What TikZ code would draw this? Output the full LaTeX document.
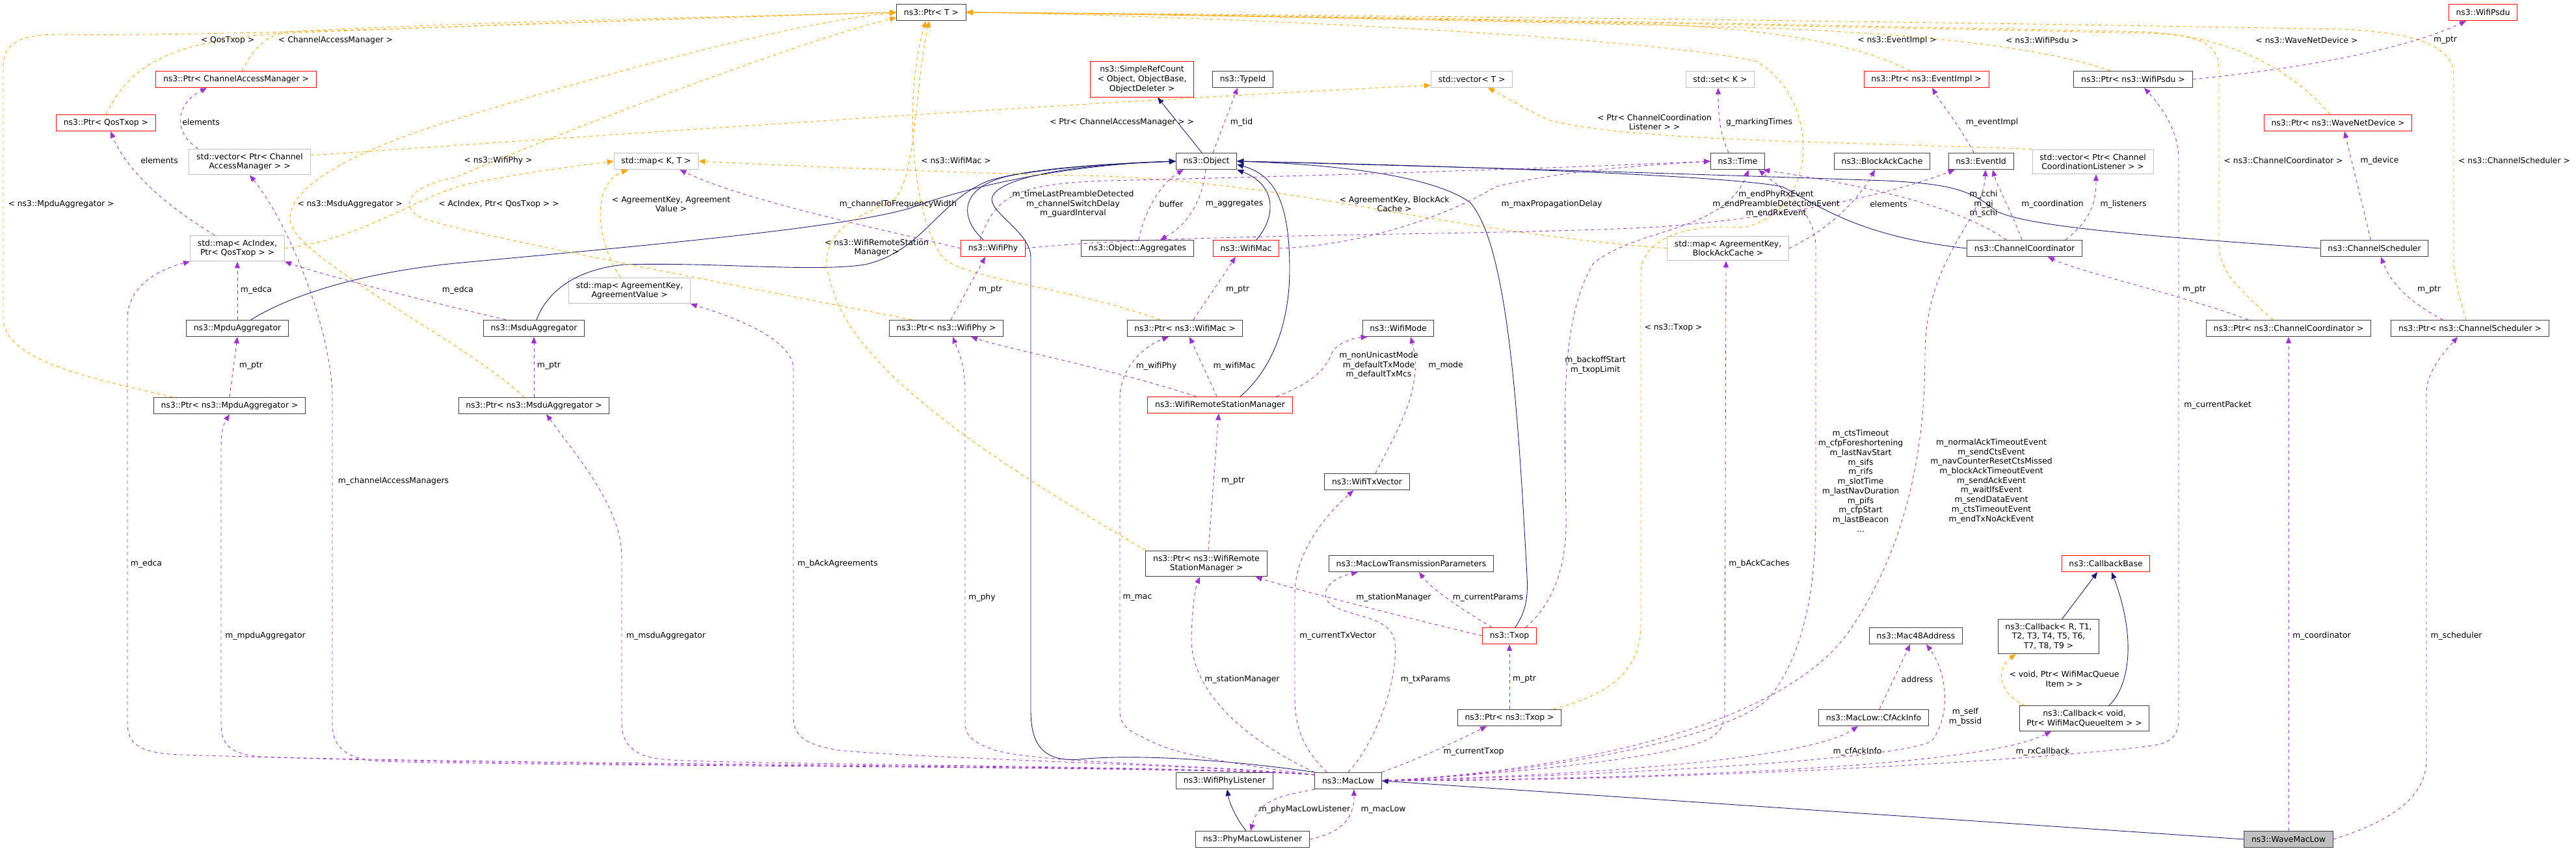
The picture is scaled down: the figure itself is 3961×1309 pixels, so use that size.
\documentclass[tikz,border=0pt]{standalone}
\usepackage{fontspec}
\setmainfont{DejaVu Sans}
\usetikzlibrary{arrows.meta, calc}
\definecolor{inhblue}{HTML}{191970}
\definecolor{usepurple}{HTML}{9A32CD}
\definecolor{tplorange}{HTML}{FFA500}

\begin{document}
\begin{tikzpicture}[x=0.8pt, y=-0.8pt,
        box/.style={rectangle, draw=black!75, fill=white, line width=0.8pt, font=\fontsize{9.9}{11.8}\selectfont, align=center, inner xsep=9pt, inner ysep=5.3pt, minimum height=20.3pt},
        boxred/.style={box, draw=red},
        boxgray/.style={box, draw=black!25},
        boxroot/.style={box, fill=black!25},
        lbl/.style={font=\fontsize{9.9}{11.8}\selectfont, align=center, inner sep=0pt},
        inh/.style={draw=inhblue, line width=0.7pt, -{Triangle[length=8pt,width=6.5pt]}},
        use/.style={draw=usepurple, line width=0.7pt, dash pattern=on 4pt off 4pt, -{Triangle[length=8pt,width=6.5pt]}},
        tpl/.style={draw=tplorange, line width=0.7pt, dash pattern=on 4pt off 4pt, -{Triangle[length=8pt,width=6.5pt]}}
        ]
        \useasboundingbox[fill=white] (0,0) rectangle (3961,1309);
        % classes
        \node[box] (PtrT) at (1432,19) {ns3::Ptr< T >};
        \node[boxred] (WifiPsdu) at (3818,19) {ns3::WifiPsdu};
        \node[boxred] (PtrCAM) at (363,122) {ns3::Ptr< ChannelAccessManager >};
        \node[boxred] (SimpleRefCount) at (1756,122) {ns3::SimpleRefCount\\< Object, ObjectBase,\\ObjectDeleter >};
        \node[box] (TypeId) at (1911,122) {ns3::TypeId};
        \node[boxgray] (VectorT) at (2263,122) {std::vector< T >};
        \node[boxgray] (SetK) at (2645,122) {std::set< K >};
        \node[boxred] (PtrEventImpl) at (2962,122) {ns3::Ptr< ns3::EventImpl >};
        \node[box] (PtrWifiPsdu) at (3280,122) {ns3::Ptr< ns3::WifiPsdu >};
        \node[boxred] (PtrQosTxop) at (163,189) {ns3::Ptr< QosTxop >};
        \node[boxred] (PtrWaveNetDevice) at (3595,189) {ns3::Ptr< ns3::WaveNetDevice >};
        \node[boxgray] (VecCAM) at (384,249) {std::vector< Ptr< Channel\\AccessManager > >};
        \node[boxgray] (MapKT) at (1009,248) {std::map< K, T >};
        \node[box] (Object) at (1855,248) {ns3::Object};
        \node[box] (Time) at (2672,248) {ns3::Time};
        \node[box] (BlockAckCache) at (2894,248) {ns3::BlockAckCache};
        \node[box] (EventId) at (3046,248) {ns3::EventId};
        \node[boxgray] (VecCCL) at (3218,249) {std::vector< Ptr< Channel\\CoordinationListener > >};
        \node[boxgray] (MapAcIndex) at (365,382) {std::map< AcIndex,\\Ptr< QosTxop > >};
        \node[boxred] (WifiPhy) at (1527,382) {ns3::WifiPhy};
        \node[box] (ObjAggregates) at (1749,382) {ns3::Object::Aggregates};
        \node[boxred] (WifiMac) at (1916,382) {ns3::WifiMac};
        \node[boxgray] (MapBlockAck) at (2657,382) {std::map< AgreementKey,\\BlockAckCache >};
        \node[box] (ChannelCoordinator) at (3113,382) {ns3::ChannelCoordinator};
        \node[box] (ChannelScheduler) at (3651,382) {ns3::ChannelScheduler};
        \node[boxgray] (MapAgreement) at (968,447) {std::map< AgreementKey,\\AgreementValue >};
        \node[box] (MpduAggregator) at (365,505) {ns3::MpduAggregator};
        \node[box] (MsduAggregator) at (821,505) {ns3::MsduAggregator};
        \node[box] (PtrWifiPhy) at (1455,505) {ns3::Ptr< ns3::WifiPhy >};
        \node[box] (PtrWifiMac) at (1822,505) {ns3::Ptr< ns3::WifiMac >};
        \node[box] (WifiMode) at (2150,505) {ns3::WifiMode};
        \node[box] (PtrCC) at (3519,505) {ns3::Ptr< ns3::ChannelCoordinator >};
        \node[box] (PtrCS) at (3798,505) {ns3::Ptr< ns3::ChannelScheduler >};
        \node[box] (PtrMpdu) at (353,624) {ns3::Ptr< ns3::MpduAggregator >};
        \node[box] (PtrMsdu) at (821,624) {ns3::Ptr< ns3::MsduAggregator >};
        \node[boxred] (WifiRSM) at (1876,623) {ns3::WifiRemoteStationManager};
        \node[box] (WifiTxVector) at (2102,741) {ns3::WifiTxVector};
        \node[box] (PtrWifiRSM) at (1855,867) {ns3::Ptr< ns3::WifiRemote\\StationManager >};
        \node[box] (MacLowTxParams) at (2170,867) {ns3::MacLowTransmissionParameters};
        \node[boxred] (CallbackBase) at (3238,867) {ns3::CallbackBase};
        \node[boxred] (Txop) at (2321,978) {ns3::Txop};
        \node[box] (Mac48Address) at (2946,978) {ns3::Mac48Address};
        \node[box] (CallbackRT) at (3150,979) {ns3::Callback< R, T1,\\T2, T3, T4, T5, T6,\\T7, T8, T9 >};
        \node[box] (PtrTxop) at (2321,1104) {ns3::Ptr< ns3::Txop >};
        \node[box] (CfAckInfo) at (2881,1104) {ns3::MacLow::CfAckInfo};
        \node[box] (CallbackVoid) at (3205,1105) {ns3::Callback< void,\\Ptr< WifiMacQueueItem > >};
        \node[box] (WifiPhyListener) at (1883,1201) {ns3::WifiPhyListener};
        \node[box] (MacLow) at (2073,1201) {ns3::MacLow};
        \node[box] (PhyMacLowListener) at (1926,1291) {ns3::PhyMacLowListener};
        \node[boxroot] (WaveMacLow) at (3519,1291) {ns3::WaveMacLow};

        % inheritance
        \draw[inh] ($(Object.north)+(-7,0)$) -- ($(SimpleRefCount.south)+(24,0)$);
        \draw[inh] ($(WifiPhy.north)+(-15,0)$) .. controls (1470,330) and (1480,283) .. (1560,269) .. controls (1650,254) and (1750,250) .. (Object.west);
        \draw[inh] ($(WifiMac.north)+(16,0)$) .. controls (1965,330) and (1960,283) .. (Object.south east);
        \draw[inh] ($(WifiRSM.north)+(31,0)$) .. controls (1960,565) and (1983,490) .. (1983,415) .. controls (1983,311) and (1960,269) .. ($(Object.east)+(0,5)$);
        \draw[inh] ($(MpduAggregator.north)+(21,0)$) .. controls (450,452) and (560,419) .. (700,405) .. controls (1000,377) and (1300,350) .. (1400,320) .. controls (1500,283) and (1650,253) .. (Object.west);
        \draw[inh] ($(MsduAggregator.north)+(4,0)$) .. controls (840,452) and (880,415) .. (960,407) .. controls (1100,403) and (1250,419) .. (1330,407) .. controls (1420,386) and (1440,311) .. (1520,278) .. controls (1600,254) and (1750,251) .. (Object.west);
        \draw[inh] (MacLow.north west) .. controls (1900,1170) and (1750,1159) .. (1660,1168) .. controls (1600,1173) and (1585,1140) .. (1585,1093) -- (1585,396) .. controls (1585,358) and (1525,330) .. (1525,306) .. controls (1530,273) and (1650,253) .. (Object.west);
        \draw[inh] ($(Txop.north)+(9,0)$) .. controls (2345,942) and (2350,923) .. (2348,886) .. controls (2335,650) and (2320,377) .. (2260,311) .. controls (2200,269) and (2050,253) .. (Object.east);
        \draw[inh] (ChannelCoordinator.west) .. controls (2850,363) and (2790,311) .. (2740,287) .. controls (2650,269) and (2200,254) .. (Object.east);
        \draw[inh] (ChannelScheduler.west) .. controls (3300,363) and (3120,349) .. (3070,325) .. controls (3030,292) and (3000,283) .. (2900,278) .. controls (2500,264) and (2100,253) .. (Object.east);
        \draw[inh] ($(CallbackRT.north)+(21,0)$) -- ($(CallbackBase.south)+(-13,0)$);
        \draw[inh] ($(CallbackVoid.north)+(38,0)$) .. controls (3275,1055) and (3285,980) .. ($(CallbackBase.south)+(9,0)$);
        \draw[inh] ($(PhyMacLowListener.north)+(-10,0)$) .. controls (1900,1258) and (1890,1234) .. ($(WifiPhyListener.south)+(4,0)$);
        \draw[inh] (WaveMacLow.west) -- (MacLow.east);

        % template instances
        \draw[tpl] (PtrQosTxop.north) .. controls (195,113) and (240,66) .. (420,52) .. controls (800,36) and (1200,24) .. (PtrT.west);
        \draw[tpl] ($(PtrCAM.north)+(9,0)$) .. controls (385,85) and (400,57) .. (440,49) .. controls (700,34) and (1200,24) .. (PtrT.west);
        \draw[tpl] ($(PtrMpdu.north west)+(30,0)$) .. controls (150,584) and (5,556) .. (5,490) -- (5,104) .. controls (5,66) and (30,53) .. (90,53) .. controls (400,57) and (1000,28) .. (PtrT.west);
        \draw[tpl] ($(PtrMsdu.north)+(-15,0)$) .. controls (720,528) and (450,396) .. (446,339) .. controls (442,283) and (560,226) .. (700,184) .. controls (900,122) and (1200,38) .. (PtrT.west);
        \draw[tpl] ($(PtrWifiPhy.north west)+(35,0)$) .. controls (1200,452) and (750,367) .. (660,339) .. controls (610,325) and (620,287) .. (700,273) .. controls (900,188) and (1250,57) .. ($(PtrT.south west)+(0,-5)$);
        \draw[tpl] (MapAcIndex.east) .. controls (560,367) and (640,302) .. (720,283) .. controls (800,266) and (880,256) .. (MapKT.west);
        \draw[tpl] ($(VecCAM.east)+(0,-10)$) .. controls (1000,203) and (1700,155) .. ($(VectorT.south west)+(0,-4)$);
        \draw[tpl] ($(MapAgreement.north)+(-14,0)$) .. controls (915,367) and (910,283) .. ($(MapKT.south west)+(22,0)$);
        \draw[tpl] ($(PtrWifiMac.north west)+(51,0)$) .. controls (1650,443) and (1480,429) .. (1450,396) .. controls (1400,330) and (1390,141) .. ($(PtrT.south)+(-8,0)$);
        \draw[tpl] (PtrWifiRSM.north west) .. controls (1600,750) and (1320,590) .. (1280,443) .. controls (1250,367) and (1300,339) .. (1370,311) .. controls (1410,283) and (1405,141) .. ($(PtrT.south)+(-3,0)$);
        \draw[tpl] (MapBlockAck.west) .. controls (2200,353) and (2000,283) .. (1700,271) .. controls (1400,264) and (1200,254) .. (MapKT.east);
        \draw[tpl] (VecCCL.north west) .. controls (2900,219) and (2500,219) .. (2380,184) .. controls (2340,165) and (2310,146) .. ($(VectorT.south)+(25,0)$);
        \draw[tpl] ($(PtrTxop.north east)+(-13,0)$) .. controls (2470,1069) and (2523,1036) .. (2523,961) -- (2523,415) .. controls (2530,363) and (2600,344) .. (2680,350) .. controls (2800,325) and (2800,151) .. (2700,94) .. controls (2500,52) and (1800,23) .. (PtrT.east);
        \draw[tpl] ($(PtrEventImpl.north)+(-25,0)$) .. controls (2870,75) and (2750,42) .. (2500,36) .. controls (2000,26) and (1700,21) .. (PtrT.east);
        \draw[tpl] ($(PtrWifiPsdu.north)+(-35,0)$) .. controls (3150,75) and (2950,47) .. (2600,40) .. controls (2100,28) and (1700,21) .. (PtrT.east);
        \draw[tpl] ($(PtrWaveNetDevice.north)+(-12,0)$) .. controls (3520,104) and (3430,57) .. (3300,49) .. controls (2500,32) and (1800,21) .. (PtrT.east);
        \draw[tpl] ($(PtrCC.north)+(-24,0)$) .. controls (3440,443) and (3412,415) .. (3412,377) -- (3412,104) .. controls (3410,66) and (3380,53) .. (3300,51) .. controls (2500,34) and (1800,21) .. (PtrT.east);
        \draw[tpl] ($(PtrCS.north)+(-6,0)$) .. controls (3780,452) and (3773,424) .. (3773,396) -- (3773,113) .. controls (3770,66) and (3700,49) .. (3600,45) .. controls (2800,30) and (1800,21) .. (PtrT.east);
        \draw[tpl] ($(CallbackVoid.north west)+(9,0)$) .. controls (3070,1065) and (3070,1027) .. ($(CallbackRT.south west)+(28,0)$);

        % members, upper part
        \draw[use] ($(VecCAM.north west)+(14,0)$) .. controls (265,203) and (270,160) .. ($(PtrCAM.south)+(-45,0)$);
        \draw[use] ($(MapAcIndex.north)+(-35,0)$) .. controls (260,320) and (195,264) .. ($(PtrQosTxop.south)+(7,0)$);
        \draw[use] (MpduAggregator.north) -- (MapAcIndex.south);
        \draw[use] ($(MsduAggregator.north west)+(35,0)$) .. controls (650,462) and (500,424) .. (MapAcIndex.south east);
        \draw[use] (PtrMpdu.north) -- (MpduAggregator.south);
        \draw[use] (PtrMsdu.north) -- (MsduAggregator.south);
        \draw[use] ($(Object.north)+(10,0)$) -- ($(TypeId.south)+(-8,0)$);
        \draw[use] ($(Object.south)+(-1,0)$) .. controls (1850,302) and (1830,344) .. ($(ObjAggregates.north)+(35,0)$);
        \draw[use] ($(ObjAggregates.north)+(2,0)$) .. controls (1760,320) and (1790,278) .. ($(Object.south west)+(12,0)$);
        \draw[use] ($(WifiPhy.north)+(-20,0)$) .. controls (1530,302) and (1560,283) .. (1700,278) .. controls (2100,269) and (2450,256) .. (Time.west);
        \draw[use] (WifiMac.east) .. controls (2100,377) and (2230,330) .. (2300,287) .. controls (2400,264) and (2500,256) .. (Time.west);
        \draw[use] (WifiPhy.east) .. controls (1800,358) and (2300,363) .. (2550,349) .. controls (2800,330) and (2950,283) .. ($(EventId.south west)+(10,0)$);
        \draw[use] (WifiPhy.west) .. controls (1380,358) and (1150,311) .. ($(MapKT.south east)+(-29,0)$);
        \draw[use] ($(PtrWifiPhy.north)+(7,0)$) -- ($(WifiPhy.south)+(-12,0)$);
        \draw[use] ($(PtrWifiMac.north)+(13,0)$) -- ($(WifiMac.south)+(-16,0)$);
        \draw[use] ($(WifiRSM.north west)+(75,0)$) .. controls (1700,565) and (1550,537) .. ($(PtrWifiPhy.south east)+(-50,0)$);
        \draw[use] ($(WifiRSM.north)+(-5,0)$) -- ($(PtrWifiMac.south)+(7,0)$);
        \draw[use] ($(WifiRSM.north east)+(-25,0)$) .. controls (2020,589) and (2040,565) .. (2048,543) .. controls (2055,528) and (2080,520) .. ($(WifiMode.south west)+(8,0)$);
        \draw[use] ($(WifiTxVector.north)+(13,0)$) .. controls (2150,660) and (2190,594) .. ($(WifiMode.south)+(19,0)$);
        \draw[use] ($(PtrWifiRSM.north)+(3,0)$) -- ($(WifiRSM.south)+(-2,0)$);
        \draw[use] (PtrTxop.north) -- (Txop.south);
        \draw[use] (Txop.west) .. controls (2150,947) and (2000,909) .. ($(PtrWifiRSM.south east)+(-18,0)$);
        \draw[use] ($(Txop.north)+(-27,0)$) .. controls (2240,933) and (2200,904) .. ($(MacLowTxParams.south)+(12,0)$);
        \draw[use] ($(Txop.north east)+(-17,0)$) .. controls (2395,923) and (2410,857) .. (2408,791) .. controls (2405,620) and (2400,490) .. (2450,405) .. controls (2520,349) and (2650,358) .. ($(Time.south)+(17,0)$);
        \draw[use] ($(ChannelScheduler.north)+(-6,0)$) .. controls (3630,302) and (3615,245) .. ($(PtrWaveNetDevice.south)+(10,0)$);
        \draw[use] ($(PtrCS.north)+(-42,0)$) .. controls (3700,462) and (3675,433) .. ($(ChannelScheduler.south)+(10,0)$);
        \draw[use] ($(PtrCC.north west)+(65,0)$) .. controls (3350,452) and (3200,419) .. ($(ChannelCoordinator.south)+(36,0)$);
        \draw[use] (PtrWifiPsdu.east) .. controls (3550,104) and (3700,75) .. ($(WifiPsdu.south)+(-26,0)$);
        \draw[use] ($(ChannelCoordinator.north)+(63,0)$) .. controls (3215,339) and (3223,311) .. ($(VecCCL.south)+(5,0)$);
        \draw[use] ($(ChannelCoordinator.north)+(-4,0)$) .. controls (3090,320) and (3070,283) .. ($(EventId.south)+(18,0)$);
        \draw[use] ($(ChannelCoordinator.north)+(-28,0)$) .. controls (3000,311) and (2850,283) .. ($(Time.south east)+(-3,0)$);
        \draw[use] ($(EventId.north)+(-11,0)$) .. controls (3010,188) and (2985,160) .. ($(PtrEventImpl.south)+(9,0)$);
        \draw[use] ($(Time.north)+(-14,0)$) .. controls (2645,207) and (2642,179) .. ($(SetK.south)+(-3,0)$);
        \draw[use] (MapBlockAck.east) .. controls (2820,349) and (2860,302) .. ($(BlockAckCache.south)+(-11,0)$);
        \draw[use] ($(CfAckInfo.north)+(9,0)$) -- ($(Mac48Address.south)+(-9,0)$);
        \draw[use] (WaveMacLow.north) -- (PtrCC.south);
        \draw[use] (WaveMacLow.east) .. controls (3680,1262) and (3731,1225) .. (3731,1168) -- (3731,606) .. controls (3731,570) and (3760,540) .. ($(PtrCS.south)+(-19,0)$);

        % members of MacLow, going left
        \draw[use] ($(MacLow.north west)+(0,4)$) .. controls (1850,1176) and (800,1178) .. (280,1161) .. controls (215,1159) and (196,1145) .. (196,1112) -- (196,490) .. controls (196,443) and (240,415) .. (MapAcIndex.south west);
        \draw[use] ($(MacLow.north west)+(0,4)$) .. controls (1850,1177) and (800,1180) .. (400,1164) .. controls (352,1159) and (340,1145) .. (340,1112) -- (340,690) .. controls (340,660) and (345,650) .. (PtrMpdu.south);
        \draw[use] ($(MacLow.north west)+(0,4)$) .. controls (1850,1178) and (900,1180) .. (580,1171) .. controls (530,1166) and (511,1149) .. (511,1112) -- (511,603) .. controls (505,490) and (440,339) .. (VecCAM.south);
        \draw[use] ($(MacLow.north west)+(0,4)$) .. controls (1850,1178) and (1100,1176) .. (1020,1168) .. controls (970,1164) and (956,1140) .. (956,1112) -- (956,857) .. controls (956,782) and (890,705) .. ($(PtrMsdu.south)+(19,0)$);
        \draw[use] ($(MacLow.north west)+(0,4)$) .. controls (1850,1177) and (1400,1166) .. (1290,1154) .. controls (1235,1145) and (1220,1131) .. (1220,1102) -- (1220,565) .. controls (1215,518) and (1120,485) .. (MapAgreement.south east);
        \draw[use] ($(MacLow.north west)+(0,4)$) .. controls (1850,1176) and (1600,1174) .. (1530,1154) .. controls (1495,1142) and (1484,1131) .. (1484,1112) -- (1484,603) .. controls (1484,556) and (1470,532) .. ($(PtrWifiPhy.south)+(10,0)$);
        \draw[use] ($(MacLow.north west)+(0,4)$) .. controls (1900,1176) and (1800,1160) .. (1760,1135) .. controls (1730,1123) and (1722,1112) .. (1722,1093) -- (1722,612) .. controls (1722,565) and (1760,532) .. ($(PtrWifiMac.south)+(-25,0)$);
        \draw[use] (MacLow.north west) .. controls (1900,1131) and (1830,1055) .. (1832,980) .. controls (1833,933) and (1838,904) .. ($(PtrWifiRSM.south)+(-10,0)$);
        \draw[use] ($(MacLow.north west)+(19,0)$) .. controls (2000,1149) and (1991,1112) .. (1991,1074) -- (1991,914) .. controls (1991,848) and (2040,791) .. ($(WifiTxVector.south west)+(45,0)$);
        \draw[use] (MacLow.north) .. controls (2110,1149) and (2150,1055) .. (2145,989) .. controls (2140,942) and (2060,951) .. (2040,923) .. controls (2030,900) and (2060,886) .. ($(MacLowTxParams.south west)+(45,0)$);
        \draw[use] (MacLow.north east) .. controls (2180,1168) and (2240,1140) .. ($(PtrTxop.south)+(-35,0)$);
        \draw[use] (MacLow.south west) .. controls (1960,1225) and (1935,1234) .. ($(PhyMacLowListener.north)+(-3,0)$);
        \draw[use] (PhyMacLowListener.east) .. controls (2060,1281) and (2082,1262) .. ($(MacLow.south)+(9,0)$);

        % members of MacLow, going right
        \draw[use] (MacLow.east) .. controls (2300,1192) and (2550,1168) .. (2620,1140) .. controls (2645,1129) and (2652,1116) .. (2652,1093) -- ($(MapBlockAck.south)+(-3,0)$);
        \draw[use] (MacLow.east) .. controls (2350,1192) and (2650,1140) .. (2720,1074) .. controls (2780,999) and (2792,886) .. (2792,791) -- (2792,377) .. controls (2790,320) and (2730,283) .. ($(Time.south east)+(-10,0)$);
        \draw[use] (MacLow.east) .. controls (2400,1187) and (2750,1121) .. (2850,961) .. controls (2930,838) and (2960,697) .. (2960,546) .. controls (2960,396) and (3050,339) .. ($(EventId.south)+(7,0)$);
        \draw[use] (MacLow.east) .. controls (2450,1192) and (2780,1168) .. ($(CfAckInfo.south)+(-24,0)$);
        \draw[use] (MacLow.east) .. controls (2500,1192) and (2920,1168) .. (2970,1140) .. controls (3000,1102) and (2995,1036) .. ($(Mac48Address.south)+(16,0)$);
        \draw[use] (MacLow.east) .. controls (2600,1197) and (3050,1178) .. ($(CallbackVoid.south)+(-51,0)$);
        \draw[use] (MacLow.east) .. controls (2700,1201) and (3250,1159) .. (3320,1145) .. controls (3345,1138) and (3350,1126) .. (3350,1102) -- (3350,245) .. controls (3350,198) and (3320,160) .. ($(PtrWifiPsdu.south)+(17,0)$);

        % edge labels
        \node[lbl] (lQos) at (350,62) {< QosTxop >};
        \node[lbl] (lCAM) at (516,62) {< ChannelAccessManager >};
        \node[lbl] (lElem1) at (309,188) {elements};
        \node[lbl] (lElem2) at (245,247) {elements};
        \node[lbl] (lMpduT) at (94,314) {< ns3::MpduAggregator >};
        \node[lbl] (lMsduT) at (538,314) {< ns3::MsduAggregator >};
        \node[lbl] (lAcIdx) at (767,314) {< AcIndex, Ptr< QosTxop > >};
        \node[lbl] (lEdca1) at (394,446) {m\_edca};
        \node[lbl] (lEdca2) at (704,446) {m\_edca};
        \node[lbl] (lPtr1) at (386,563) {m\_ptr};
        \node[lbl] (lPtr2) at (844,563) {m\_ptr};
        \node[lbl] (lWifiPhyT) at (766,247) {< ns3::WifiPhy >};
        \node[lbl] (lAgrVal) at (1032,314) {< AgreementKey, Agreement\\Value >};
        \node[lbl] (lChWidth) at (1381,314) {m\_channelToFrequencyWidth};
        \node[lbl] (lRsmT) at (1348,381) {< ns3::WifiRemoteStation\\Manager >};
        \node[lbl] (lPtrCAM) at (1725,188) {< Ptr< ChannelAccessManager > >};
        \node[lbl] (lTid) at (1909,188) {m\_tid};
        \node[lbl] (lWifiMacT) at (1470,247) {< ns3::WifiMac >};
        \node[lbl] (lPreamble) at (1650,314) {m\_timeLastPreambleDetected\\m\_channelSwitchDelay\\m\_guardInterval};
        \node[lbl] (lBuffer) at (1801,314) {buffer};
        \node[lbl] (lAggr) at (1898,314) {m\_aggregates};
        \node[lbl] (lPtr3) at (1523,446) {m\_ptr};
        \node[lbl] (lPtr4) at (1903,446) {m\_ptr};
        \node[lbl] (lWifiPhyM) at (1778,563) {m\_wifiPhy};
        \node[lbl] (lWifiMacM) at (1898,563) {m\_wifiMac};
        \node[lbl] (lCCL) at (2544,188) {< Ptr< ChannelCoordination\\Listener > >};
        \node[lbl] (lBACache) at (2144,314) {< AgreementKey, BlockAck\\Cache >};
        \node[lbl] (lMaxProp) at (2386,314) {m\_maxPropagationDelay};
        \node[lbl] (lModes) at (2120,562) {m\_nonUnicastMode\\m\_defaultTxMode\\m\_defaultTxMcs};
        \node[lbl] (lMode) at (2223,562) {m\_mode};
        \node[lbl] (lBackoff) at (2453,562) {m\_backoffStart\\m\_txopLimit};
        \node[lbl] (lTxopT) at (2573,504) {< ns3::Txop >};
        \node[lbl] (lEventImplT) at (2917,62) {< ns3::EventImpl >};
        \node[lbl] (lPsduT) at (3140,62) {< ns3::WifiPsdu >};
        \node[lbl] (lMarking) at (2705,188) {g\_markingTimes};
        \node[lbl] (lEventImpl) at (3063,188) {m\_eventImpl};
        \node[lbl] (lEndRx) at (2731,314) {m\_endPhyRxEvent\\m\_endPreambleDetectionEvent\\m\_endRxEvent};
        \node[lbl] (lElem3) at (2904,314) {elements};
        \node[lbl] (lCchi) at (3050,314) {m\_cchi\\m\_gi\\m\_schi};
        \node[lbl] (lCoordination) at (3156,314) {m\_coordination};
        \node[lbl] (lListeners) at (3265,314) {m\_listeners};
        \node[lbl] (lWaveT) at (3547,62) {< ns3::WaveNetDevice >};
        \node[lbl] (lPtr5) at (3760,62) {m\_ptr};
        \node[lbl] (lCCT) at (3511,247) {< ns3::ChannelCoordinator >};
        \node[lbl] (lDevice) at (3659,247) {m\_device};
        \node[lbl] (lCST) at (3866,247) {< ns3::ChannelScheduler >};
        \node[lbl] (lPtr6) at (3374,446) {m\_ptr};
        \node[lbl] (lPtr7) at (3735,446) {m\_ptr};
        \node[lbl] (lCurPacket) at (3410,623) {m\_currentPacket};
        \node[lbl] (lCAMs) at (605,740) {m\_channelAccessManagers};
        \node[lbl] (lEdca3) at (225,867) {m\_edca};
        \node[lbl] (lMpduM) at (408,978) {m\_mpduAggregator};
        \node[lbl] (lMsduM) at (1024,978) {m\_msduAggregator};
        \node[lbl] (lBAckAgr) at (1288,867) {m\_bAckAgreements};
        \node[lbl] (lPtr8) at (1896,740) {m\_ptr};
        \node[lbl] (lPhy) at (1510,919) {m\_phy};
        \node[lbl] (lMac) at (1749,919) {m\_mac};
        \node[lbl] (lStaMgr1) at (1910,1045) {m\_stationManager};
        \node[lbl] (lStaMgr2) at (2143,919) {m\_stationManager};
        \node[lbl] (lCurParams) at (2288,919) {m\_currentParams};
        \node[lbl] (lCurTxVec) at (2057,978) {m\_currentTxVector};
        \node[lbl] (lTxParams) at (2192,1045) {m\_txParams};
        \node[lbl] (lPtr9) at (2344,1045) {m\_ptr};
        \node[lbl] (lCurTxop) at (2266,1156) {m\_currentTxop};
        \node[lbl] (lPhyMacL) at (2006,1245) {m\_phyMacLowListener};
        \node[lbl] (lMacLow) at (2127,1245) {m\_macLow};
        \node[lbl] (lCts) at (2861,740) {m\_ctsTimeout\\m\_cfpForeshortening\\m\_lastNavStart\\m\_sifs\\m\_rifs\\m\_slotTime\\m\_lastNavDuration\\m\_pifs\\m\_cfpStart\\m\_lastBeacon\\...};
        \node[lbl] (lAckEv) at (3062,740) {m\_normalAckTimeoutEvent\\m\_sendCtsEvent\\m\_navCounterResetCtsMissed\\m\_blockAckTimeoutEvent\\m\_sendAckEvent\\m\_waitIfsEvent\\m\_sendDataEvent\\m\_ctsTimeoutEvent\\m\_endTxNoAckEvent};
        \node[lbl] (lBAckCaches) at (2705,867) {m\_bAckCaches};
        \node[lbl] (lAddress) at (2948,1045) {address};
        \node[lbl] (lSelf) at (3022,1103) {m\_self\\m\_bssid};
        \node[lbl] (lVoidT) at (3174,1044) {< void, Ptr< WifiMacQueue\\Item > >};
        \node[lbl] (lCfAck) at (2856,1156) {m\_cfAckInfo};
        \node[lbl] (lRxCb) at (3141,1156) {m\_rxCallback};
        \node[lbl] (lCoord) at (3570,978) {m\_coordinator};
        \node[lbl] (lSched) at (3777,978) {m\_scheduler};
    \end{tikzpicture}
\end{document}
